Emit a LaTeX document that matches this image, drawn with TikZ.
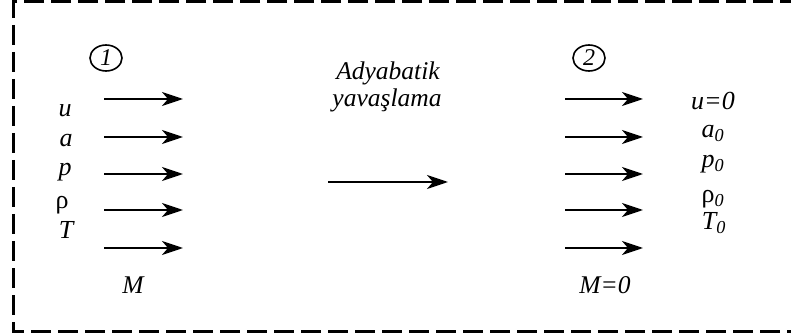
\documentclass[tikz,border=0pt]{standalone}
\usepackage{fontspec}
\setmainfont{Liberation Serif}
\usetikzlibrary{arrows.meta,shapes.geometric}
\begin{document}
\begin{tikzpicture}[x=1pt,y=-1pt,
  flow/.style={line width=2.4pt,-{Stealth[length=21pt,width=14pt,inset=6pt]}},
  lbl/.style={inner sep=0pt,anchor=base,font=\fontsize{26}{26}\selectfont\itshape},
  mid/.style={inner sep=0pt,anchor=base,font=\fontsize{25.5}{25.5}\selectfont\itshape},
  statecirc/.style={draw,line width=1.6pt,ellipse,minimum width=32pt,minimum height=26pt,inner sep=0pt,font=\fontsize{24}{24}\selectfont\itshape},
  frame/.style={line width=3pt,dash pattern=on 20pt off 7pt}]
\useasboundingbox (0,0) rectangle (791,336);
\clip (0,0) rectangle (791,336);
\draw[frame] (800,2) -- (13,2) -- (13,331) -- (800,331);
% state circles
\node[statecirc] (c1) at (106,58) {1};
\node[statecirc] (c2) at (589,58) {2};
% left and right arrows
\foreach \i/\y in {1/99,2/137,3/174,4/210,5/248}{
  \coordinate (ls\i) at (104,\y);
  \coordinate (le\i) at (183,\y);
  \draw[flow] (ls\i) -- (le\i);
  \coordinate (rs\i) at (565,\y);
  \coordinate (re\i) at (643,\y);
  \draw[flow] (rs\i) -- (re\i);
}
% middle arrow
\coordinate (ms) at (328,182);
\coordinate (me) at (448,182);
\draw[flow] (ms) -- (me);
% middle text
\node[mid] (t1) at (388,80) {Adyabatik};
\node[mid] (t2) at (387,107) {yavaşlama};
% left labels
\node[lbl] (lu) at (65,117) {u};
\node[lbl] (la) at (66,147) {a};
\node[lbl] (lp) at (65,176) {p};
\node[lbl,font=\fontsize{26}{26}\selectfont\upshape] (lr) at (62,209) {ρ};
\node[lbl] (lt) at (66,239) {T};
\node[mid] (lm) at (133,293) {M};
% right labels
\node[lbl] (ru) at (713,110) {u=0};
\node[lbl] (ra) at (713,138) {a\textsubscript{0}};
\node[lbl] (rp) at (713,168) {p\textsubscript{0}};
\node[lbl] (rr) at (713,203) {{\upshape ρ}\textsubscript{0}};
\node[lbl] (rt) at (714,230) {T\textsubscript{0}};
\node[mid] (rm) at (605,293) {M=0};
\end{tikzpicture}
\end{document}
